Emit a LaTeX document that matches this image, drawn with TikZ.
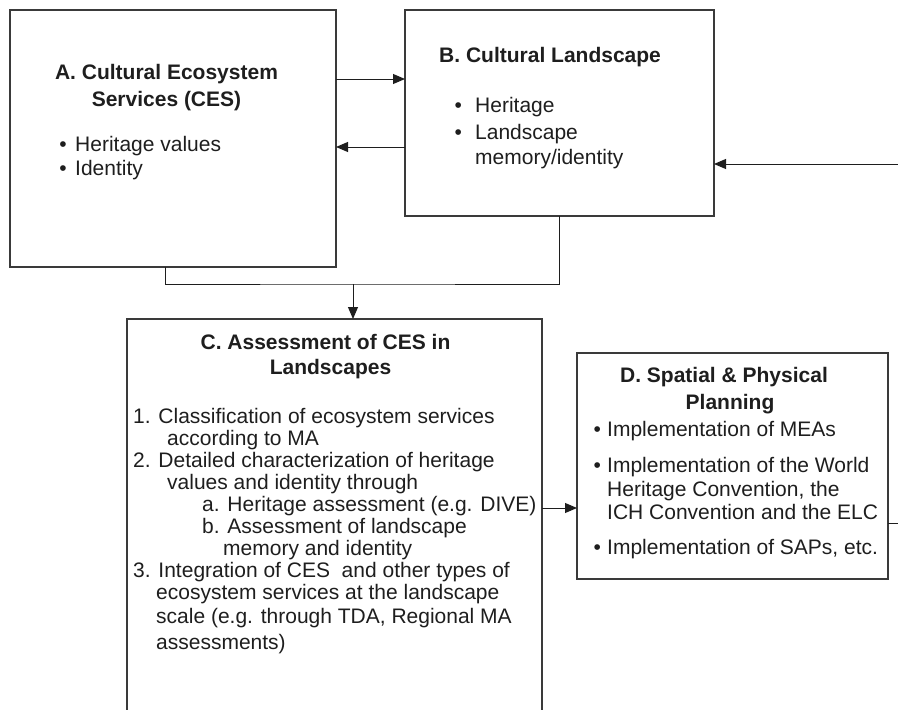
\documentclass[tikz,border=0pt]{standalone}
\usepackage{fontspec}
\setmainfont{Liberation Sans}
\usetikzlibrary{arrows.meta,calc}
\definecolor{ink}{HTML}{1E1E1E}
\definecolor{frame}{HTML}{3A3A3A}
\newcommand\bul[1]{\makebox[#1][l]{•}}
\begin{document}
\begin{tikzpicture}[x=1pt,y=-1pt,
  box/.style={draw=frame,line width=1.2pt,inner sep=0pt,outer sep=0pt},
  txt/.style={font=\fontsize{21}{24}\selectfont,text=ink,inner sep=0pt,anchor=base west},
  ttl/.style={font=\fontsize{21}{24}\selectfont\bfseries,text=ink,inner sep=0pt,anchor=base},
  link/.style={draw=ink,line width=1pt},
  arr/.style={link,-{Triangle[length=12pt,width=10pt]}}]
\useasboundingbox (0,0) rectangle (898,710);
\clip (0,0) rectangle (898,710);
% boxes
\node[box,minimum width=326pt,minimum height=257pt] (A) at (173,138.5) {};
\node[box,minimum width=309pt,minimum height=206pt] (B) at (559.5,113) {};
\node[box,minimum width=415pt,minimum height=401pt] (C) at (334.5,519.5) {};
\node[box,minimum width=311pt,minimum height=226pt] (D) at (732.5,466) {};
% box A text
\node[ttl] (At1) at (166.5,79.5) {A. Cultural Ecosystem};
\node[ttl] (At2) at (166.5,106) {Services (CES)};
\node[txt] (Ab1) at (59.3,151.7) {\bul{15.7pt}Heritage values};
\node[txt] (Ab2) at (59.3,175) {\bul{15.7pt}Identity};
% box B text
\node[ttl,anchor=base west] (Bt) at (439,62.3) {B. Cultural Landscape};
\node[txt] (Bb1) at (454.3,112.3) {\bul{20.7pt}Heritage};
\node[txt] (Bb2) at (454.3,139) {\bul{20.7pt}Landscape};
\node[txt] (Bb3) at (475,164.3) {memory/identity};
% box C text
\node[ttl] (Ct1) at (325.5,349) {C. Assessment of CES in};
\node[ttl] (Ct2) at (330.5,374) {Landscapes};
\node[txt] (C1) at (133,423.3) {1. Classification of ecosystem services};
\node[txt] (C2) at (167,445.5) {according to MA};
\node[txt] (C3) at (133,467.5) {2. Detailed characterization of heritage};
\node[txt] (C4) at (167,489.5) {values and identity through};
\node[txt] (C5) at (202,511.5) {a. Heritage assessment (e.g. DIVE)};
\node[txt] (C6) at (202,533.5) {b. Assessment of landscape};
\node[txt] (C7) at (223,555.5) {memory and identity};
\node[txt] (C8) at (133,577.5) {3. Integration of CES\ \ and other types of};
\node[txt] (C9) at (156,599.5) {ecosystem services at the landscape};
\node[txt] (C10) at (156,623.5) {scale (e.g. through TDA, Regional MA};
\node[txt] (C11) at (156,649.3) {assessments)};
% box D text
\node[ttl] (Dt1) at (724,382.7) {D. Spatial \& Physical};
\node[ttl] (Dt2) at (730,409) {Planning};
\node[txt] (Db1) at (593.3,436) {\bul{13.7pt}Implementation of MEAs};
\node[txt] (Db2) at (593.3,472.3) {\bul{13.7pt}Implementation of the World};
\node[txt] (Db3) at (607,496) {Heritage Convention, the};
\node[txt] (Db4) at (607,519) {ICH Convention and the ELC};
\node[txt] (Db5) at (593.3,554) {\bul{13.7pt}Implementation of SAPs, etc.};
% connectors
\coordinate (ab) at ($(B.west)+(0,-34)$);
\coordinate (ba) at ($(B.west)+(0,34)$);
\draw[arr] (A.east |- ab) -- (ab);
\draw[arr] (ba) -- (A.east |- ba);
\coordinate (ext) at (898,164);
\draw[arr] (ext) -- (B.east |- ext);
\coordinate (aj) at ($(A.south)+(-8,0)$);
\coordinate (jn) at (353,284);
\draw[link] (aj) |- (jn) -| (B.south);
\draw[arr] (jn) -- (C.north -| jn);
\coordinate (cd) at (560,508);
\draw[arr] (C.east |- cd) -- (D.west |- cd);
\coordinate (dx) at (898,523);
\draw[link] (D.east |- dx) -- (dx);
\end{tikzpicture}
\end{document}
